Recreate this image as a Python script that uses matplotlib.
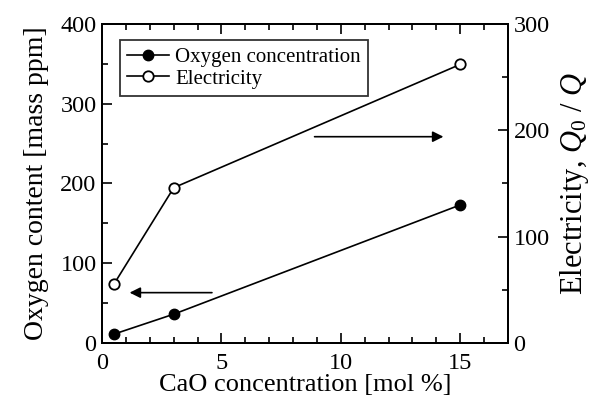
import matplotlib
matplotlib.use("Agg")
import matplotlib.pyplot as plt
from matplotlib.ticker import MultipleLocator

plt.rcParams['font.family'] = ['Liberation Serif', 'DejaVu Serif']
plt.rcParams['mathtext.fontset'] = 'custom'
plt.rcParams['mathtext.rm'] = 'Liberation Serif'
plt.rcParams['mathtext.it'] = 'Liberation Serif:italic'

cao = [0.5, 3, 15]
oxygen = [11, 36, 173]
electricity = [55.5, 146, 262]

fig = plt.figure(figsize=(6.01, 4.01), dpi=100)
ax = fig.add_axes([0.170, 0.145, 0.675, 0.795])
ax2 = ax.twinx()

l1, = ax.plot(cao, oxygen, '-o', color='black', mfc='black', ms=7.5, lw=1.2,
              label='Oxygen concentration')
l2, = ax2.plot(cao, electricity, '-o', color='black', mfc='white', ms=7.5, lw=1.2,
               mew=1.3, label='Electricity')

ax.set_xlim(0, 17)
ax.set_ylim(0, 400)
ax2.set_ylim(0, 300)

ax.xaxis.set_major_locator(MultipleLocator(5))
ax.xaxis.set_minor_locator(MultipleLocator(1))
ax.yaxis.set_major_locator(MultipleLocator(100))
ax.yaxis.set_minor_locator(MultipleLocator(50))
ax2.yaxis.set_major_locator(MultipleLocator(100))
ax2.yaxis.set_minor_locator(MultipleLocator(50))

TS = 17.5
ax.tick_params(axis='x', which='both', direction='in', top=True, labelsize=TS, pad=7)
ax.tick_params(axis='x', which='major', length=7, width=1.2)
ax.tick_params(axis='x', which='minor', length=4, width=1.2)
ax.tick_params(axis='y', which='both', direction='in', labelsize=TS, pad=4)
ax.tick_params(axis='y', which='major', length=7, width=1.2)
ax.tick_params(axis='y', which='minor', length=4, width=1.2)
ax2.tick_params(axis='y', which='both', direction='in', labelsize=TS, pad=4)
ax2.tick_params(axis='y', which='major', length=7, width=1.2)
ax2.tick_params(axis='y', which='minor', length=4, width=1.2)

for a in (ax, ax2):
    for s in a.spines.values():
        s.set_linewidth(1.4)

ax.set_xlabel('CaO concentration [mol %]', fontsize=19, labelpad=0)
ax.set_ylabel('Oxygen content [mass ppm]', fontsize=20, labelpad=8)
ax2.set_ylabel('Electricity, $\\mathit{Q}_0$ / $\\mathit{Q}$', fontsize=22, labelpad=6)

# arrows
ax.annotate('', xy=(1.15, 63), xytext=(4.6, 63),
            arrowprops=dict(arrowstyle='-|>', color='black', lw=1.2,
                            mutation_scale=16, shrinkA=0, shrinkB=0))
ax2.annotate('', xy=(14.3, 194), xytext=(8.9, 194),
             arrowprops=dict(arrowstyle='-|>', color='black', lw=1.2,
                             mutation_scale=16, shrinkA=0, shrinkB=0))

leg = ax.legend(handles=[l1, l2], loc='upper left', bbox_to_anchor=(0.044, 0.95),
                fontsize=15, frameon=True, fancybox=False, edgecolor='black',
                handlelength=2.0, borderpad=0.35, labelspacing=0.1, handletextpad=0.3,
                borderaxespad=0)
leg.get_frame().set_linewidth(1.3)

fig.savefig('out.png', dpi=100)
